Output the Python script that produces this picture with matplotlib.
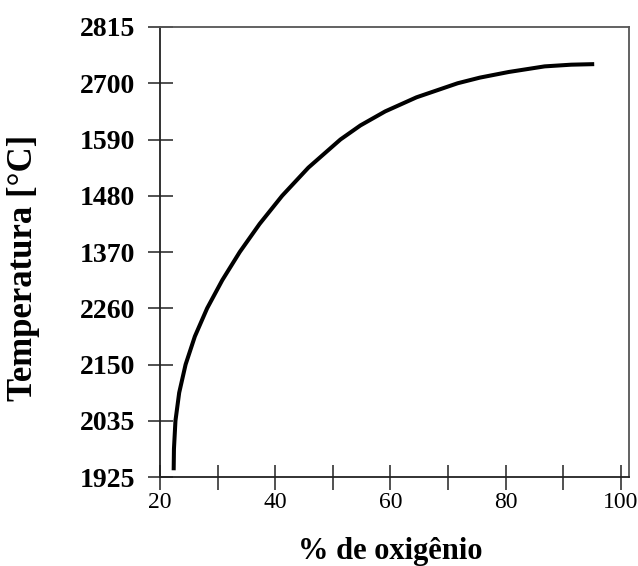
import matplotlib
matplotlib.use("Agg")
import matplotlib.pyplot as plt

# --- data (y in tick-slot units, labels as printed) ---
oxygen = [22.37, 22.42, 22.68, 23.33, 24.44, 26.05, 28.18, 30.81, 33.84,
          37.29, 41.20, 45.75, 51.31, 54.78, 59.09, 64.52, 71.66, 75.51,
          80.51, 86.76, 91.36, 95.36]
temp_slot = [0.12, 0.5, 1.0, 1.5, 2.0, 2.5, 3.0, 3.5, 4.0,
             4.5, 5.0, 5.5, 6.0, 6.25, 6.5, 6.75, 7.0, 7.1,
             7.2, 7.3, 7.33, 7.34]
ytick_labels = ["1925", "2035", "2150", "2260", "1370", "1480", "1590", "2700", "2815"]
xticks = [20, 30, 40, 50, 60, 70, 80, 90, 100]
xtick_labels = ["20", "", "40", "", "60", "", "80", "", "100"]

plt.rcParams['font.family'] = ['Liberation Serif', 'DejaVu Serif']

fig = plt.figure(figsize=(6.38, 5.66), dpi=100)
ax = fig.add_axes([0.2508, 0.1572, 0.7351, 0.7951])

ax.plot(oxygen, temp_slot, color='black', linewidth=2.9,
        solid_capstyle='butt', solid_joinstyle='round')

ax.set_xlim(20, 101.4)
ax.set_ylim(0, 8)
ax.set_xticks(xticks)
ax.set_xticklabels(xtick_labels)
ax.set_yticks(range(len(ytick_labels)))
ax.set_yticklabels(ytick_labels, fontweight='bold')

ax.tick_params(axis='both', direction='inout', length=18, width=1.1, color='#222222')
ax.tick_params(axis='y', labelsize=20, pad=9)
ax.tick_params(axis='x', labelsize=17, pad=2)

for side in ['left', 'bottom']:
    ax.spines[side].set_color('#222222')
    ax.spines[side].set_linewidth(1.3)
for side in ['top', 'right']:
    ax.spines[side].set_color('#555555')
    ax.spines[side].set_linewidth(1.3)

ax.set_xlabel("% de oxigênio", fontsize=22, fontweight='bold')
ax.set_ylabel("Temperatura [°C]", fontsize=25, fontweight='bold')
ax.xaxis.set_label_coords(0.49, -0.133)
ax.yaxis.set_label_coords(-0.255, 0.464)

fig.savefig("out.png", dpi=100)
